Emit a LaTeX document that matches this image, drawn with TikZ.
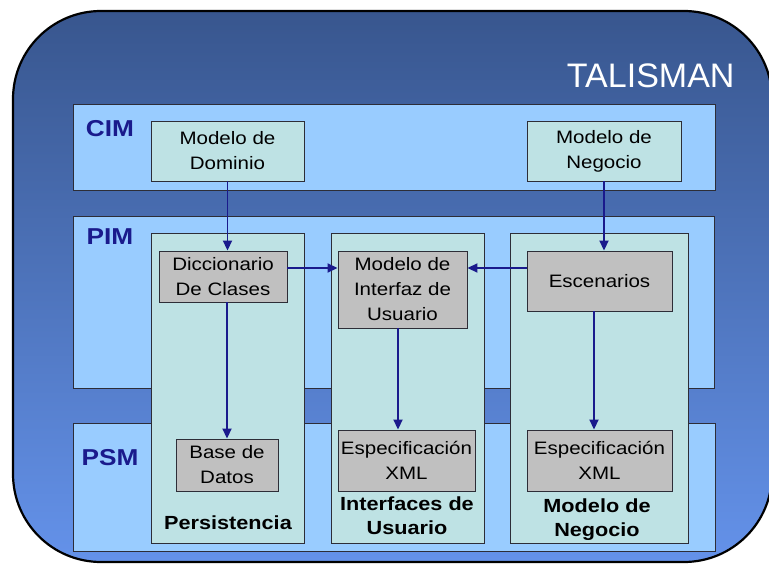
\documentclass[tikz,border=0pt]{standalone}
\usepackage{fontspec}
\setmainfont[FakeStretch=1.14]{Liberation Sans}
\newfontfamily\talfont{Liberation Sans}
\usetikzlibrary{arrows.meta,calc}
\definecolor{bgtop}{RGB}{56,86,142}
\definecolor{bgmid}{RGB}{72,110,190}
\definecolor{bgbot}{RGB}{100,146,234}
\definecolor{bandc}{RGB}{153,204,255}
\definecolor{colc}{RGB}{190,226,228}
\definecolor{grayc}{RGB}{192,192,192}
\definecolor{navy}{RGB}{26,26,140}
\definecolor{edgec}{RGB}{45,45,55}
\tikzset{
  band/.style={draw=edgec, line width=0.9pt, fill=bandc},
  colbox/.style={draw=edgec, line width=0.9pt, fill=colc},
  tbox/.style={draw=edgec, line width=0.9pt, fill=colc, inner sep=0pt, align=center,
     font=\fontsize{18}{25}\selectfont, text=black},
  gbox/.style={draw=edgec, line width=0.9pt, fill=grayc, inner sep=0pt, align=center,
     font=\fontsize{18}{25}\selectfont, text=black},
  lvl/.style={font=\fontsize{23}{26}\selectfont\bfseries, text=navy},
  coltitle/.style={font=\fontsize{19}{24}\selectfont\bfseries, text=black, align=center},
  arr/.style={draw=navy, line width=1.8pt, -{Triangle[length=10pt,width=9pt]}},
}
\begin{document}
\begin{tikzpicture}[x=1pt,y=-1pt]
\useasboundingbox (0,0) rectangle (769,567);
% outer frame
\shade[top color=bgtop, middle color=bgmid, bottom color=bgbot, rounded corners=88pt]
  (13,11) rectangle (772,562);
\draw[black, line width=2.2pt, rounded corners=88pt] (13,11) rectangle (772,562);
\node[text=white, font=\talfont\fontsize{34}{36}\selectfont, anchor=base east] (tal) at (738,88) {TALISMAN};
% bands
\draw[band] (73,104) rectangle (715,190);
\draw[band] (73,216) rectangle (714,388);
\draw[band] (73,423) rectangle (715,551);
\node[lvl] (cim) at (110,129) {CIM};
\node[lvl] (pim) at (110,237) {PIM};
\node[lvl] (psm) at (110,458) {PSM};
% columns
\draw[colbox] (151,233) rectangle (304,543);
\draw[colbox] (331,233) rectangle (484,543);
\draw[colbox] (510,233) rectangle (688,543);
% boxes
\node[tbox, minimum width=153pt, minimum height=60pt] (dom) at (227.5,151) {Modelo de\\Dominio};
\node[tbox, minimum width=154pt, minimum height=60pt] (neg) at (604,151) {Modelo de\\Negocio};
\node[gbox, minimum width=128pt, minimum height=51pt] (dic) at (223,276.5) {Diccionario\\De Clases};
\node[gbox, minimum width=129pt, minimum height=77pt] (mi) at (402.5,289.5) {Modelo de\\Interfaz de\\Usuario};
\node[gbox, minimum width=145pt, minimum height=60pt] (esc) at (599.5,281) {Escenarios};
\node[gbox, minimum width=102pt, minimum height=52pt] (bd) at (227,465) {Base de\\Datos};
\node[gbox, minimum width=137pt, minimum height=61pt] (xa) at (406.5,460.5) {Especificación\\XML};
\node[gbox, minimum width=145pt, minimum height=61pt] (xb) at (599.5,460.5) {Especificación\\XML};
% column titles
\node[coltitle] (tp) at (228,523) {Persistencia};
\node[coltitle] (ti) at (407,516) {Interfaces de\\Usuario};
\node[coltitle] (tn) at (597,520) {Modelo de\\Negocio};
% arrows
\coordinate (yh) at (0,268);
\coordinate (xm) at (398,0);
\coordinate (xr) at (594,0);
\draw[arr] (dom.south) -- (dom.south |- dic.north);
\draw[arr] (neg.south) -- (neg.south |- esc.north);
\draw[arr] (dic.east |- yh) -- (mi.west |- yh);
\draw[arr] (esc.west |- yh) -- (mi.east |- yh);
\draw[arr] (bd.north |- dic.south) -- (bd.north);
\draw[arr] (mi.south -| xm) -- (xa.north -| xm);
\draw[arr] (esc.south -| xr) -- (xb.north -| xr);
\end{tikzpicture}
\end{document}
